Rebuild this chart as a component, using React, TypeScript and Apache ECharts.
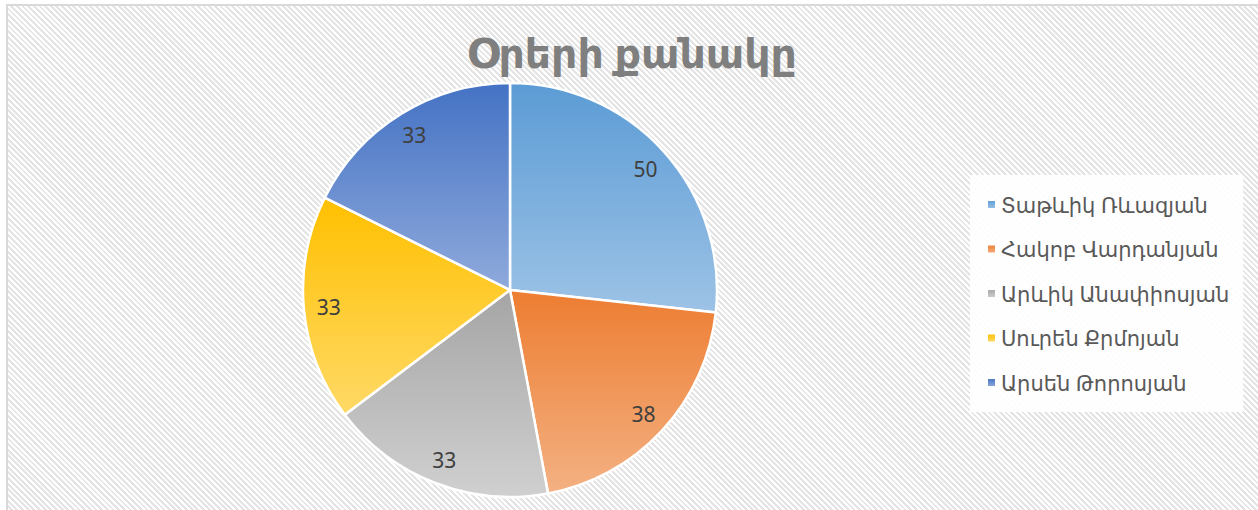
import React, { useEffect, useRef } from "react";
import * as echarts from "echarts";

const titleText = "Օրերի քանակը";
const names = ["Տաթևիկ Ռևազյան", "Հակոբ Վարդանյան", "Արևիկ Անափիոսյան", "Սուրեն Քրմոյան", "Արսեն Թորոսյան"];
const values = [50, 38, 33, 33, 33];
const topColors = ["#5B9BD5", "#ED7D31", "#A5A5A5", "#FFC000", "#4472C4"];
const bottomColors = ["#9DC3E6", "#F4B183", "#D0D0D0", "#FFD966", "#8FAADC"];

export default function App() {
  const ref = useRef<HTMLDivElement>(null);
  useEffect(() => {
    if (!ref.current) return;
    const chart = echarts.init(ref.current, null, { renderer: "svg" });
    const font = "'Noto Sans', 'DejaVu Sans', sans-serif";
    const data = names.map((n, i) => ({
      name: n,
      value: values[i],
      itemStyle: {
        color: new echarts.graphic.LinearGradient(0, 0, 0, 1, [
          { offset: 0, color: topColors[i] },
          { offset: 1, color: bottomColors[i] },
        ]),
      },
    }));
    chart.setOption({
      animation: false,
      backgroundColor: "transparent",
      graphic: [
        {
          type: "text",
          x: 632,
          y: 52,
          style: {
            text: titleText,
            textAlign: "center",
            textVerticalAlign: "middle",
            fill: "#7F7F7F",
            fontSize: 41,
            fontWeight: "bold",
            fontFamily: font,
          },
        },
      ],
      legend: {
        orient: "vertical",
        left: 970,
        top: 175,
        icon: "rect",
        itemWidth: 9,
        itemHeight: 9,
        itemGap: 23.5,
        padding: [19, 14, 19, 16],
        backgroundColor: "rgba(255,255,255,0.9)",
        data: names,
        textStyle: { fontSize: 21, color: "#595959", fontFamily: font },
      },
      series: [
        {
          type: "pie",
          center: [510, 290],
          radius: [0, 207],
          startAngle: 90,
          clockwise: true,
          label: { show: false },
          labelLine: { show: false },
          itemStyle: { borderColor: "#ffffff", borderWidth: 2.5 },
          emphasis: { disabled: true },
          data,
        },
        {
          type: "pie",
          center: [510, 290],
          radius: [150, 208],
          startAngle: 90,
          clockwise: true,
          silent: true,
          legendHoverLink: false,
          itemStyle: { color: "transparent", borderWidth: 0 },
          label: {
            show: true,
            position: "inside",
            formatter: "{c}",
            fontSize: 21,
            color: "#404040",
            fontFamily: font,
          },
          labelLine: { show: false },
          data: names.map((n, i) => ({ name: n + " ", value: values[i] })),
        },
      ],
    });
    return () => chart.dispose();
  }, []);
  return (
    <div style={{ position: "fixed", left: 0, top: 0, width: 1258, height: 510, background: "#ffffff", overflow: "hidden" }}>
      <div
        style={{
          position: "absolute",
          left: 6,
          top: 4,
          width: 1270,
          height: 530,
          borderTop: "2px solid #d9d9d9",
          borderLeft: "2px solid #d9d9d9",
          backgroundColor: "#ffffff",
          backgroundImage:
            "repeating-linear-gradient(45deg, #e4e4e4 0px, #e4e4e4 2px, #ffffff 2px, #ffffff 4px)",
        }}
      />
      <div ref={ref} style={{ position: "absolute", left: 0, top: 0, width: 1258, height: 510 }} />
    </div>
  );
}
